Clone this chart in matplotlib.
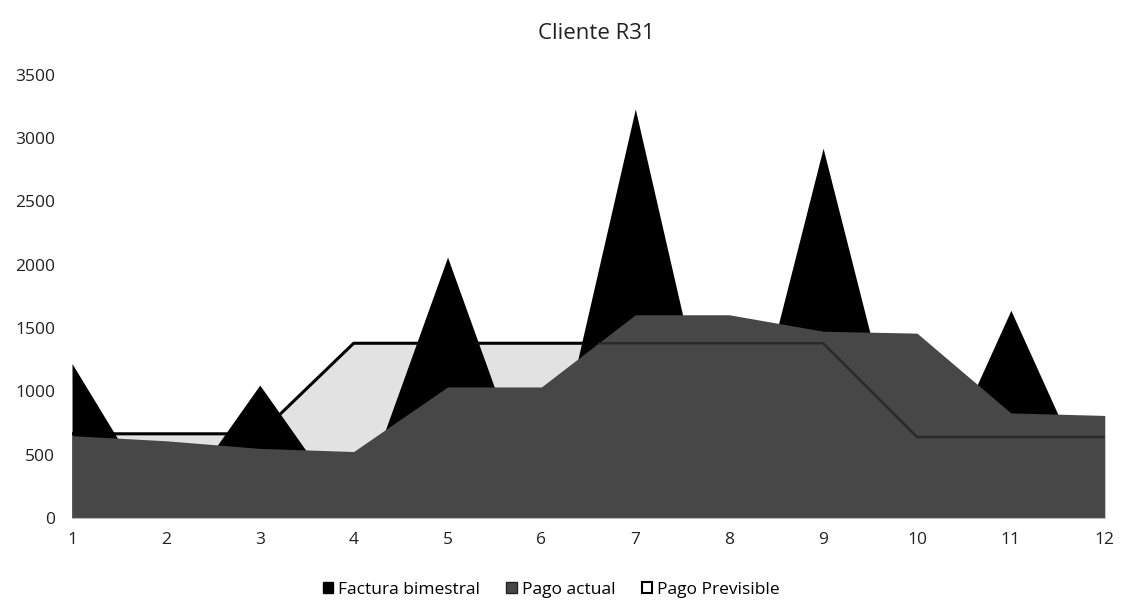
import matplotlib
matplotlib.use("Agg")

import matplotlib.pyplot as plt
from matplotlib.patches import Patch

# months on the category axis
months = [1, 2, 3, 4, 5, 6, 7, 8, 9, 10, 11, 12]

# values
factura_bimestral = [1220, 0, 1050, 0, 2060, 0, 3230, 0, 2920, 0, 1640, 0]
pago_actual = [650, 610, 550, 525, 1035, 1035, 1605, 1605, 1475, 1460, 830, 810]
pago_previsible = [665, 665, 665, 1380, 1380, 1380, 1380, 1380, 1380, 640, 640, 640]

y_ticks = [0, 500, 1000, 1500, 2000, 2500, 3000, 3500]

plt.rcParams['font.family'] = ['Open Sans', 'DejaVu Sans']

fig = plt.figure(figsize=(11.25, 6.08), dpi=100)
ax = fig.add_axes([0.064, 0.148, 0.918, 0.729])

# forecast: light fill + black outline behind the other two series
ax.fill_between(months, 0, pago_previsible, color="#e2e2e2", lw=0, zorder=1)
ax.plot(months, pago_previsible, color="#000000", lw=2.2, zorder=1.5)
ax.fill_between(months, 0, factura_bimestral, color="#000000", lw=0, zorder=2)
actual = ax.fill_between(months, 0, pago_actual, color="#474747", lw=0, zorder=3)
# the forecast outline still shows faintly through the actual-payment area
ghost, = ax.plot(months, pago_previsible, color="#2a2a2a", lw=1.8, zorder=4)
ghost.set_clip_path(actual.get_paths()[0], transform=ax.transData)

ax.set_xlim(1, 12)
ax.set_ylim(0, 3500)
ax.set_xticks(months)
ax.set_yticks(y_ticks)
ax.tick_params(length=0, labelsize=12.5, colors="#222222")
ax.tick_params(axis="x", pad=10)
ax.tick_params(axis="y", pad=12)
for side in ["top", "right", "left"]:
    ax.spines[side].set_visible(False)
ax.spines["bottom"].set_color("#bbbbbb")
ax.spines["bottom"].set_zorder(5)

fig.text(0.53, 0.945, "Cliente R31", ha="center", va="center",
         fontsize=16, color="#222222")

handles = [Patch(facecolor="#000000", edgecolor="#000000"),
           Patch(facecolor="#474747", edgecolor="#222222"),
           Patch(facecolor="#ffffff", edgecolor="#000000", lw=1.5)]
labels = ["Factura bimestral", "Pago actual", "Pago Previsible"]
fig.legend(handles, labels, loc="center", bbox_to_anchor=(0.49, 0.03),
           ncol=3, frameon=False, fontsize=12.5, handlelength=0.6,
           handleheight=0.6, handletextpad=0.3, columnspacing=1.5)

fig.savefig("out.png", dpi=100)
